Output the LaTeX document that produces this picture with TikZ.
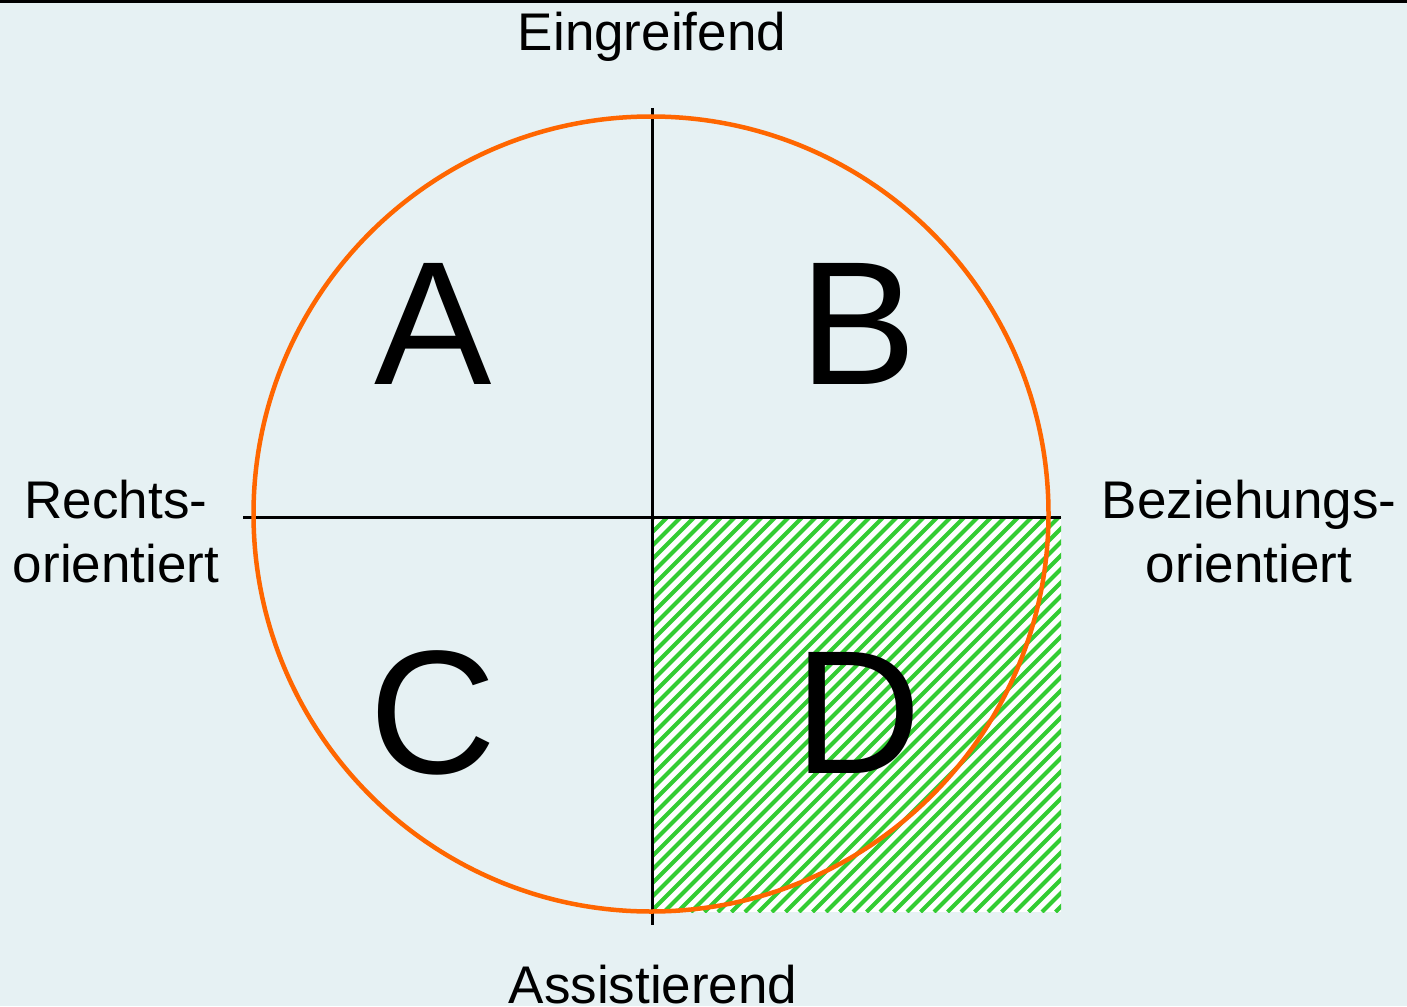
\documentclass[tikz,border=0pt]{standalone}
\usepackage{fontspec}
\setmainfont{Liberation Sans}

\definecolor{paneblue}{HTML}{E6F1F3}
\definecolor{hatchgreen}{HTML}{33CC33}
\definecolor{ringorange}{HTML}{FF6600}

\tikzset{
  axislabel/.style={font=\fontsize{53}{64}\selectfont, align=center, anchor=base},
  quadrant/.style={font=\fontsize{176}{200}\selectfont, anchor=base},
  axisline/.style={line width=3pt, black},
}

\begin{document}
\begin{tikzpicture}[x=1pt, y=-1pt]
\useasboundingbox (0,0) rectangle (1407,1006);
\fill[paneblue] (0,0) rectangle (1407,1006);
\draw[line width=3pt] (0,1.5) -- (1407,1.5);

% hatched quadrant D
\fill[white] (652,517) rectangle (1061,912);
\begin{scope}
  \clip (652,517) rectangle (1061,912);
  \foreach \x in {0,13.5,...,891} {
    \draw[hatchgreen, line width=4pt] (652+\x-420,912) -- (652+\x-420+420,492);
  }
\end{scope}

% axes
\coordinate (top) at (652,108);
\coordinate (bottom) at (652,925);
\coordinate (left) at (243,517);
\coordinate (right) at (1061,517);
\draw[axisline] (top) -- (bottom);
\draw[axisline] (left) -- (right);

% ring
\draw[ringorange, line width=4.5pt] (651,514) circle (397.5);

% labels
\node[axislabel] (eingreifend) at (652,51) {Eingreifend};
\node[axislabel] (assistierend) at (653,1003) {Assistierend};
\node[axislabel] (rechts) at (116,582) {Rechts-\\orientiert};
\node[axislabel] (beziehung) at (1249,582) {Beziehungs-\\orientiert};

\node[quadrant] (qa) at (433,384) {A};
\node[quadrant] (qb) at (858,384) {B};
\node[quadrant] (qc) at (433,773) {C};
\node[quadrant] (qd) at (858,773) {D};
\end{tikzpicture}
\end{document}
